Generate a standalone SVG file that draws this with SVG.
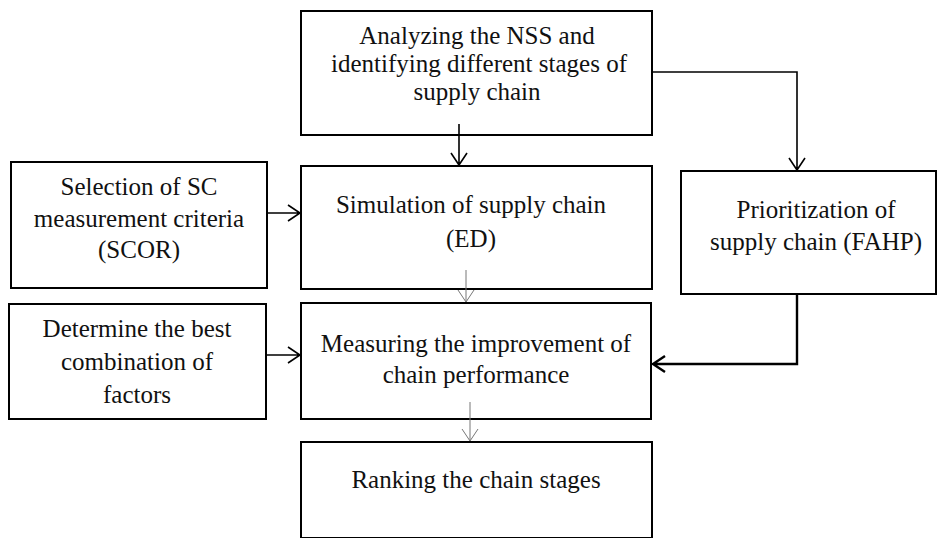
<svg xmlns="http://www.w3.org/2000/svg" width="937" height="538" viewBox="0 0 937 538">
<style>
rect{fill:#fff;stroke:#000;stroke-width:2}
text{font-family:"Liberation Serif","Times New Roman",serif;font-size:25px;fill:#111;text-anchor:middle}
.c{fill:none;stroke:#000;stroke-width:1.6}
.t{fill:none;stroke:#000;stroke-width:2.4}
.g{fill:none;stroke:#777;stroke-width:1}
</style>
<g id="n1"><rect x="301" y="11" width="351" height="124"/>
<text x="477" y="44">Analyzing the NSS and</text>
<text x="479" y="72">identifying different stages of</text>
<text x="477" y="100">supply chain</text></g>
<g id="n2"><rect x="11" y="162" width="256" height="126"/>
<text x="139" y="195">Selection of SC</text>
<text x="139" y="227">measurement criteria</text>
<text x="139" y="258">(SCOR)</text></g>
<g id="n3"><rect x="301" y="166" width="351" height="123"/>
<text x="471" y="213">Simulation of supply chain</text>
<text x="471" y="247">(ED)</text></g>
<g id="n4"><rect x="681" y="171" width="255" height="123"/>
<text x="816" y="218">Prioritization of</text>
<text x="816" y="250">supply chain (FAHP)</text></g>
<g id="n5"><rect x="9" y="304" width="257" height="115"/>
<text x="137" y="337">Determine the best</text>
<text x="137" y="370">combination of</text>
<text x="137" y="403">factors</text></g>
<g id="n6"><rect x="301" y="303" width="350" height="116"/>
<text x="476" y="352">Measuring the improvement of</text>
<text x="476" y="383">chain performance</text></g>
<g id="n7"><rect x="301" y="442" width="351" height="96"/>
<text x="476" y="488">Ranking the chain stages</text></g>
<g id="connectors">
<path class="c" d="M459 124V165M451 153L459 165L467 153"/>
<path class="c" d="M652 72H797V170M789 158L797 170L805 158"/>
<path class="c" d="M267 213H299M288 205L300 213L288 221"/>
<path class="c" d="M266 355H299M288 347L300 355L288 363"/>
<path class="t" d="M797 294V364H653M665 356L653 364L665 372"/>
<path class="g" d="M466 270V302M458 290L466 302L474 290"/>
<path class="g" d="M470 402V441M462 429L470 441L478 429"/>
</g>
</svg>
